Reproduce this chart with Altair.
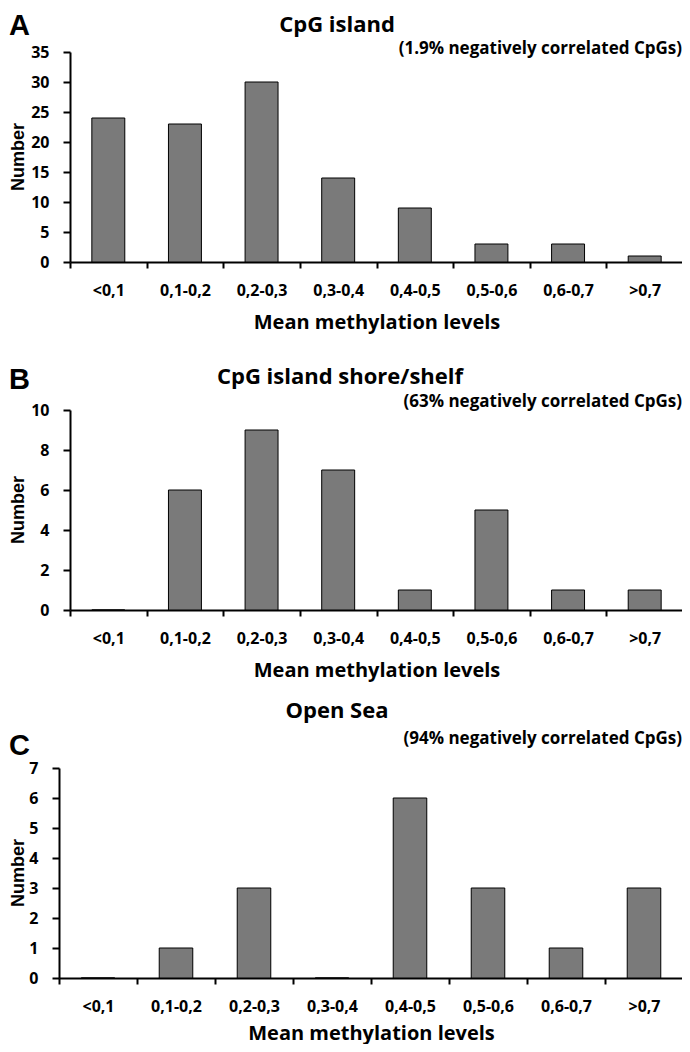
import altair as alt
import pandas as pd

categories = ["<0,1", "0,1-0,2", "0,2-0,3", "0,3-0,4", "0,4-0,5", "0,5-0,6", "0,6-0,7", ">0,7"]
island_counts = [24, 23, 30, 14, 9, 3, 3, 1]
shore_counts = [0, 6, 9, 7, 1, 5, 1, 1]
opensea_counts = [0, 1, 3, 0, 6, 3, 1, 3]

panel_letters = ["A", "B", "C"]
panel_titles = ["CpG island", "CpG island shore/shelf", "Open Sea"]
panel_notes = ["(1.9% negatively correlated CpGs)",
               "(63% negatively correlated CpGs)",
               "(94% negatively correlated CpGs)"]
y_max = [35, 10, 7]
y_step = [5, 2, 1]

FONT = "Open Sans"
VW, VH = 674, 1036          # whole drawing area (page minus 8px margin)

# panel geometry inside the drawing area: (left, right, top, bottom)
geo = [(62, 675, 44, 254), (62, 675, 402, 602), (51, 675, 760, 970)]
xtitle_pad = [14, 14, 9]


def text_layer(txt, x, y, size, align="center", baseline="alphabetic", angle=0, font=FONT):
    return alt.Chart(pd.DataFrame({"t": [txt]})).mark_text(
        font=font, fontSize=size, fontWeight="bold", color="black",
        align=align, baseline=baseline, angle=angle
    ).encode(text="t:N", x=alt.value(x), y=alt.value(y))


def bars(counts, ymax, ystep, g, tpad):
    left, right, top, bottom = g
    df = pd.DataFrame({"cat": categories, "n": counts})
    return alt.Chart(df).mark_bar(
        width=alt.RelativeBandSize(0.43), fill="#7a7a7a", stroke="black", strokeWidth=1
    ).encode(
        x=alt.X("cat:N", sort=categories,
                scale=alt.Scale(paddingInner=0, paddingOuter=0, range=[left, right]),
                axis=alt.Axis(orient="bottom", offset=bottom - VH,
                              title="Mean methylation levels", tickBand="extent",
                              labelAngle=0, tickSize=6, labelPadding=14,
                              titlePadding=tpad, titleFontSize=20)),
        y=alt.Y("n:Q", scale=alt.Scale(domain=[0, ymax], nice=False, zero=True,
                                       range=[bottom, top]),
                axis=alt.Axis(orient="left", offset=-left,
                              values=list(range(0, ymax + 1, ystep)), title=None,
                              tickSize=7, labelPadding=14, grid=False)),
    )


layers = [
    bars(island_counts, y_max[0], y_step[0], geo[0], xtitle_pad[0]),
    bars(shore_counts, y_max[1], y_step[1], geo[1], xtitle_pad[1]),
    bars(opensea_counts, y_max[2], y_step[2], geo[2], xtitle_pad[2]),
]

letter_y = [27, 381, 747]
title_y = [24, 376, 710]
note_y = [46, 399, 736]
title_x = [329, 332, 329]
for i in range(3):
    left, right, top, bottom = geo[i]
    layers.append(text_layer(panel_letters[i], 1, letter_y[i], 29, align="left",
                             font="Liberation Sans"))
    layers.append(text_layer(panel_titles[i], title_x[i], title_y[i], 22))
    layers.append(text_layer(panel_notes[i], right - 1, note_y[i], 17, align="right"))
    layers.append(text_layer("Number", 11, (top + bottom) / 2, 18,
                             baseline="middle", angle=270, font="Liberation Sans"))

chart = alt.layer(*layers).resolve_scale(
    x="independent", y="independent"
).properties(
    width=VW, height=VH, padding=0, autosize=alt.AutoSizeParams(type="none")
).configure_view(stroke=None).configure_axis(
    labelFont=FONT, labelFontWeight="bold", labelFontSize=16, labelColor="black",
    titleFont=FONT, titleFontWeight="bold", titleColor="black",
    domainColor="black", tickColor="black", domainWidth=2, tickWidth=2
)

chart.save("out.html", embed_options={"renderer": "svg", "actions": False})
